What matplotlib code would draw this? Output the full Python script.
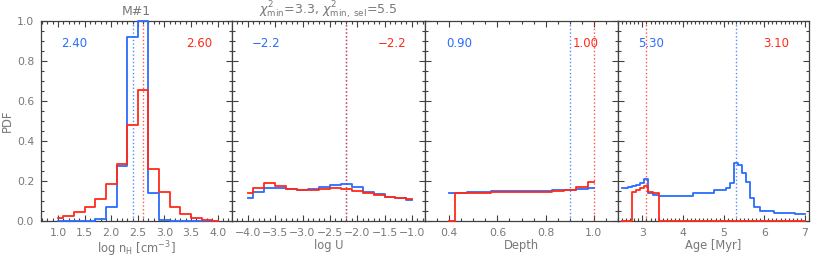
import numpy as np
import matplotlib
matplotlib.use("Agg")
import matplotlib.pyplot as plt
from matplotlib.ticker import MultipleLocator

plt.rcParams['font.family'] = ['DejaVu Sans']
plt.rcParams['mathtext.fontset'] = 'dejavusans'

#--- data ---
nh_x = [1.0, 1.2, 1.4, 1.6, 1.8, 2.0, 2.2, 2.4, 2.6, 2.8, 3.0, 3.2, 3.4, 3.6, 3.8, 4.0]
nh_blue = [0, 0, 0, 0, 0.01, 0.072, 0.276, 0.92, 1.0, 0.14, 0.005, 0, 0, 0, 0, 0]
nh_red = [0.017, 0.025, 0.045, 0.072, 0.11, 0.183, 0.283, 0.48, 0.654, 0.26, 0.146, 0.072, 0.033, 0.013, 0.005, 0.002]

u_x = [-4.0, -3.8, -3.6, -3.4, -3.2, -3.0, -2.8, -2.6, -2.4, -2.2, -2.0, -1.8, -1.6, -1.4, -1.2, -1.0]
u_blue = [0.113, 0.146, 0.166, 0.163, 0.158, 0.155, 0.16, 0.168, 0.18, 0.185, 0.171, 0.146, 0.133, 0.121, 0.113, 0.105]
u_red = [0.141, 0.166, 0.188, 0.175, 0.161, 0.155, 0.155, 0.161, 0.163, 0.16, 0.151, 0.141, 0.13, 0.121, 0.116, 0.111]

d_x = [0.40, 0.45, 0.50, 0.55, 0.60, 0.65, 0.70, 0.75, 0.80, 0.85, 0.90, 0.95, 1.00]
d_blue = [0.141, 0.141, 0.143, 0.146, 0.148, 0.15, 0.15, 0.15, 0.151, 0.153, 0.155, 0.16, 0.163]
d_red = [0, 0.141, 0.141, 0.142, 0.145, 0.145, 0.145, 0.145, 0.146, 0.151, 0.155, 0.171, 0.196]

age_x = [2.5, 2.6, 2.7, 2.8, 2.9, 3.0, 3.1, 3.2, 3.3, 3.5, 4.0, 4.5, 5.0, 5.1, 5.2, 5.3, 5.4, 5.5, 5.6, 5.7, 5.8, 6.0, 6.5, 7.0]
age_blue = [0.163, 0.163, 0.171, 0.175, 0.181, 0.191, 0.208, 0.141, 0.13, 0.126, 0.125, 0.141, 0.155, 0.166, 0.191,
            0.291, 0.278, 0.238, 0.195, 0.116, 0.068, 0.05, 0.041, 0.033]
age_red = [0, 0, 0, 0.146, 0.155, 0.163, 0.176, 0.143, 0.138, 0, 0, 0, 0, 0, 0, 0, 0, 0, 0, 0, 0, 0, 0, 0]

# best values (blue, red) printed in each panel
best_blue = [2.40, -2.2, 0.90, 5.30]
best_red = [2.60, -2.2, 1.00, 3.10]
best_txt_blue = ["2.40", "\u22122.2", "0.90", "5.30"]
best_txt_red = ["2.60", "\u22122.2", "1.00", "3.10"]

xlabels = [r"log n$_{\rm H}$ [cm$^{-3}$]", "log U", "Depth", "Age [Myr]"]

#--- layout ---
W, H = 830, 261
edges = [41, 232, 425, 618, 809]
top, bot = 20.7, 221
xlims = [(0.68, 4.27), (-4.29, -0.76), (0.30, 1.10), (2.40, 7.10)]
xmaj = [0.5, 0.5, 0.2, 1.0]
xmin = [0.1, 0.1, 0.05, 0.1]

blue = '#2a6cff'
red = '#ff2a1a'
gray = '#787878'
dark = '#404040'

fig = plt.figure(figsize=(W / 100, H / 100), dpi=100)

data = [(nh_x, nh_blue, nh_red), (u_x, u_blue, u_red), (d_x, d_blue, d_red), (age_x, age_blue, age_red)]

for i in range(4):
    ax = fig.add_axes([edges[i] / W, (H - bot) / H, (edges[i + 1] - edges[i]) / W, (bot - top) / H])
    x, yb, yr = data[i]
    ax.step(x, yb, where='mid', color=blue, lw=1.3, clip_on=False, zorder=3)
    ax.step(x, yr, where='mid', color=red, lw=1.3, clip_on=False, zorder=4)
    ax.axvline(best_blue[i], color=blue, lw=1.0, ls=':', alpha=0.8, zorder=2)
    ax.axvline(best_red[i], color=red, lw=1.0, ls=':', alpha=0.8, zorder=2)
    ax.text(0.175, 0.885, best_txt_blue[i], color=blue, fontsize=8.5, ha='center', va='center', transform=ax.transAxes)
    ax.text(0.83, 0.885, best_txt_red[i], color=red, fontsize=8.5, ha='center', va='center', transform=ax.transAxes)

    ax.set_xlim(*xlims[i])
    ax.set_ylim(0, 1.0)
    ax.xaxis.set_major_locator(MultipleLocator(xmaj[i]))
    ax.xaxis.set_minor_locator(MultipleLocator(xmin[i]))
    ax.yaxis.set_major_locator(MultipleLocator(0.2))
    ax.yaxis.set_minor_locator(MultipleLocator(0.05))
    ax.tick_params(which='both', direction='in', top=True, right=True, color=dark, width=0.8,
                   labelcolor=gray, labelsize=7.8, pad=5)
    ax.tick_params(which='major', length=4)
    ax.tick_params(which='minor', length=2)
    for s in ax.spines.values():
        s.set_color(dark)
        s.set_linewidth(0.9)
    ax.set_xlabel(xlabels[i], color=gray, fontsize=8.3, labelpad=1)
    if i == 0:
        ax.yaxis.set_major_formatter(plt.FuncFormatter(lambda v, p: "%.1f" % v))
        ax.set_ylabel("PDF", color=gray, fontsize=8.3, labelpad=2)
        ax.set_title("M#1", color=gray, fontsize=9, pad=4)
    else:
        ax.tick_params(labelleft=False)
    if i == 1:
        ax.set_title(r"$\chi^2_{\rm min}$=3.3, $\chi^2_{\rm min,\ sel}$=5.5", color=gray, fontsize=9, pad=2)
    if i == 2:
        ax.xaxis.set_major_formatter(plt.FuncFormatter(lambda v, p: "%.1f" % v))
    if i == 3:
        ax.xaxis.set_major_formatter(plt.FuncFormatter(lambda v, p: "%d" % round(v)))

fig.savefig("out.png", dpi=100)
